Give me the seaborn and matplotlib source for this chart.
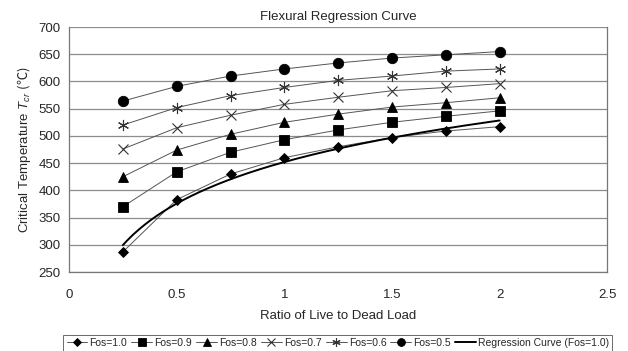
import numpy as np
import pandas as pd
import seaborn as sns
import matplotlib
matplotlib.use("Agg")
import matplotlib.pyplot as plt

# Ratio of live to dead load
ratio = [0.25, 0.5, 0.75, 1.0, 1.25, 1.5, 1.75, 2.0]

# Critical temperature (°C) for each factor of safety
fos_10 = [287, 383, 430, 460, 480, 497, 509, 517]
fos_09 = [370, 434, 470, 493, 511, 525, 536, 546]
fos_08 = [425, 474, 503, 525, 540, 553, 561, 570]
fos_07 = [476, 515, 538, 558, 571, 583, 589, 596]
fos_06 = [520, 552, 574, 589, 602, 610, 619, 623]
fos_05 = [564, 591, 610, 623, 634, 643, 649, 655]

series_labels = ["Fos=1.0", "Fos=0.9", "Fos=0.8", "Fos=0.7", "Fos=0.6", "Fos=0.5"]
series_values = [fos_10, fos_09, fos_08, fos_07, fos_06, fos_05]
regression_label = "Regression Curve (Fos=1.0)"

sns.set_theme(style="white")
plt.rcParams["font.family"] = ["Liberation Sans", "DejaVu Sans"]
plt.rcParams["mathtext.fontset"] = "custom"
plt.rcParams["mathtext.rm"] = "Noto Sans CJK JP"
plt.rcParams["mathtext.it"] = "Liberation Sans:italic"
plt.rcParams["mathtext.bf"] = "Liberation Sans:bold"

fig = plt.figure(figsize=(6.28, 3.51), dpi=100)
ax = fig.add_axes([0.110, 0.225, 0.857, 0.698])

markers = ["D", "s", "^", "x", (6, 2, 0), "o"]
msizes = [5.5, 7, 7.5, 7, 8, 7.5]

df = pd.DataFrame({
    "ratio": np.tile(ratio, len(series_labels)),
    "temp": np.concatenate(series_values),
    "series": np.repeat(series_labels, len(ratio)),
})

for lab, mk, ms in zip(series_labels, markers, msizes):
    sub = df[df["series"] == lab]
    filled = mk not in ("x", (6, 2, 0))
    sns.lineplot(data=sub, x="ratio", y="temp", ax=ax, color="#555555",
                 lw=0.7, marker=mk, markersize=ms,
                 markerfacecolor="black" if filled else "none",
                 markeredgecolor="black" if filled else "#333333",
                 markeredgewidth=0.6 if filled else 0.8,
                 label=lab, legend=False, estimator=None, sort=False)

# Logarithmic regression fitted to the Fos=1.0 series
b, a = np.polyfit(np.log(ratio), fos_10, 1)
xr = np.linspace(ratio[0], ratio[-1], 200)
reg = pd.DataFrame({"ratio": xr, "temp": a + b * np.log(xr)})
sns.lineplot(data=reg, x="ratio", y="temp", ax=ax, color="black", lw=1.4,
             label=regression_label, legend=False)

ax.set_xlim(0, 2.5)
ax.set_ylim(250, 700)
ax.set_xticks([0, 0.5, 1, 1.5, 2, 2.5])
ax.set_xticklabels(["0", "0.5", "1", "1.5", "2", "2.5"])
ax.set_yticks(np.arange(250, 701, 50))
ax.yaxis.grid(True, color="#8c8c8c", lw=0.9)
ax.xaxis.grid(False)
ax.tick_params(axis="x", direction="in", length=3, width=0.7, color="#777777",
               pad=12, labelsize=9.5)
ax.tick_params(axis="y", length=0, pad=6, labelsize=9.5)
for side in ["left", "right", "bottom"]:
    ax.spines[side].set_color("#777777")
    ax.spines[side].set_linewidth(0.9)
ax.spines["top"].set_visible(False)

ax.set_title("Flexural Regression Curve", fontsize=9.5, pad=5)
ax.set_xlabel("Ratio of Live to Dead Load", fontsize=9.5, labelpad=7)
ax.set_ylabel("Critical Temperature $T_{cr}$ $\\mathrm{(\u2103)}$", fontsize=9.5,
              labelpad=4)

handles, labels = ax.get_legend_handles_labels()
leg = fig.legend(handles, labels, loc="lower center", bbox_to_anchor=(0.538, 0.0),
                 ncol=7, fontsize=7.5, frameon=True, fancybox=False,
                 handlelength=2.0, handletextpad=0.2, columnspacing=0.4,
                 borderpad=0.3, borderaxespad=0.0, markerscale=0.75)
leg.get_frame().set_edgecolor("#444444")
leg.get_frame().set_linewidth(0.7)

fig.savefig("out.png", dpi=100)
